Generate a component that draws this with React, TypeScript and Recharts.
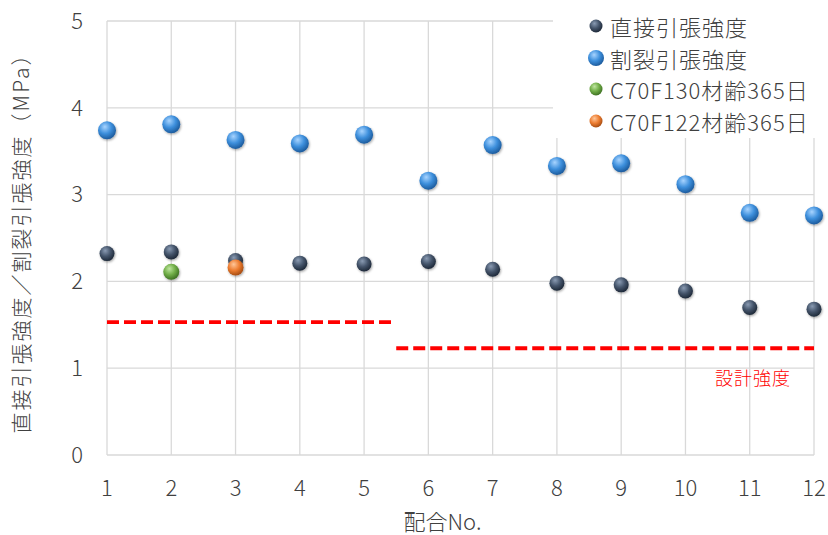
import React from 'react';
import {
  ScatterChart, Scatter, XAxis, YAxis, CartesianGrid, ReferenceLine, Label,
} from 'recharts';

const mixNo = [1, 2, 3, 4, 5, 6, 7, 8, 9, 10, 11, 12];
const directTension = [2.32, 2.34, 2.24, 2.21, 2.2, 2.23, 2.14, 1.98, 1.96, 1.89, 1.7, 1.68];
const splitTension = [3.74, 3.81, 3.63, 3.59, 3.69, 3.16, 3.57, 3.33, 3.36, 3.12, 2.79, 2.76];
const c70f130No = [2];
const c70f130Values = [2.11];
const c70f122No = [3];
const c70f122Values = [2.16];
const designFrom = [1, 5.5];
const designTo = [5.45, 12];
const designValues = [1.53, 1.23];
const yTicks = [0, 1, 2, 3, 4, 5];

const seriesNames = ['直接引張強度', '割裂引張強度', 'C70F130材齢365日', 'C70F122材齢365日'];

const directData = mixNo.map((x, i) => ({ x, y: directTension[i] }));
const splitData = mixNo.map((x, i) => ({ x, y: splitTension[i] }));
const greenData = c70f130No.map((x, i) => ({ x, y: c70f130Values[i] }));
const orangeData = c70f122No.map((x, i) => ({ x, y: c70f122Values[i] }));

const FONT = '"Noto Sans CJK JP", "Noto Sans", sans-serif';
const TEXT = '#404040';
const FW = 300;

const gradients = [
  { id: 'gDark', light: '#8a9bb3', mid: '#44546a', dark: '#1f2a3a' },
  { id: 'gBlue', light: '#a8d4ff', mid: '#3d8fdc', dark: '#1d5c9e' },
  { id: 'gGreen', light: '#bfe6a0', mid: '#70ad47', dark: '#3f7224' },
  { id: 'gOrange', light: '#ffc79a', mid: '#ed7d31', dark: '#a84d12' },
];

const Defs = () => (
  <defs>
    {gradients.map((g) => (
      <radialGradient key={g.id} id={g.id} cx="0.4" cy="0.35" r="0.65" fx="0.38" fy="0.3">
        <stop offset="0%" stopColor={g.light} />
        <stop offset="55%" stopColor={g.mid} />
        <stop offset="100%" stopColor={g.dark} />
      </radialGradient>
    ))}
    <filter id="shadow" x="-50%" y="-50%" width="200%" height="200%">
      <feDropShadow dx="0.8" dy="1.2" stdDeviation="0.8" floodColor="#000" floodOpacity="0.35" />
    </filter>
  </defs>
);

const makeShape = (grad: string, r: number) => (props: any) => {
  const { cx, cy } = props;
  if (cx == null || cy == null) return <g />;
  return <circle cx={cx} cy={cy} r={r} fill={`url(#${grad})`} filter="url(#shadow)" />;
};

const legendItems = [
  { name: seriesNames[0], grad: 'gDark', r: 6.5 },
  { name: seriesNames[1], grad: 'gBlue', r: 8 },
  { name: seriesNames[2], grad: 'gGreen', r: 6.5 },
  { name: seriesNames[3], grad: 'gOrange', r: 6.5 },
];

const LegendBox = () => (
  <div style={{ position: 'absolute', left: 553, top: 0, width: 275, height: 138, background: '#fff' }}>
    {legendItems.map((it, i) => (
      <div
        key={it.name}
        style={{
          position: 'absolute', left: 33, top: 26 + i * 31.5 - 16, height: 32,
          display: 'flex', alignItems: 'center',
        }}
      >
        <svg width={20} height={20} style={{ marginRight: 4 }}>
          <circle cx={10} cy={10} r={it.r} fill={`url(#${it.grad})`} />
        </svg>
        <span style={{ fontFamily: FONT, fontWeight: FW, fontSize: 22, color: TEXT, whiteSpace: 'nowrap', letterSpacing: 1 }}>
          {it.name}
        </span>
      </div>
    ))}
  </div>
);

const designLabel = (props: any) => {
  const vb = props.viewBox || {};
  const x = (vb.x ?? 0) + (vb.width ?? 0) - 61;
  const y = (vb.y ?? 0) + 29;
  return (
    <text x={x} y={y} fill="#ff0000" fontSize={18} letterSpacing={1} fontWeight={FW} fontFamily={FONT} textAnchor="middle" dominantBaseline="central">
      設計強度
    </text>
  );
};

export default function App() {
  return (
    <div style={{ position: 'absolute', left: 0, top: 0, width: 828, height: 535, background: '#fff' }}>
      <ScatterChart width={828} height={535} margin={{ top: 21, right: 14, bottom: 0, left: 0 }}>
        <Defs />
        <CartesianGrid stroke="#d9d9d9" strokeWidth={1.3} />
        <XAxis
          type="number"
          dataKey="x"
          domain={[1, 12]}
          ticks={mixNo}
          interval={0}
          axisLine={false}
          tickLine={false}
          tickSize={0}
          tickMargin={25}
          height={80}
          tick={{ fill: TEXT, fontSize: 22, fontFamily: FONT, fontWeight: FW }}
        >
          <Label
            value="配合No."
            position="insideBottom"
            offset={5}
            dx={-18}
            style={{ fill: TEXT, fontSize: 22, fontFamily: FONT, fontWeight: FW }}
          />
        </XAxis>
        <YAxis
          type="number"
          dataKey="y"
          domain={[0, 5]}
          ticks={yTicks}
          interval={0}
          axisLine={false}
          tickLine={false}
          tickSize={0}
          tickMargin={24}
          width={107}
          tick={{ fill: TEXT, fontSize: 22, fontFamily: FONT, fontWeight: FW }}
        >
          <Label
            value="直接引張強度／割裂引張強度（MPa）"
            angle={-90}
            position="insideLeft"
            offset={22}
            style={{ fill: TEXT, fontSize: 21, letterSpacing: 2, fontFamily: FONT, fontWeight: FW, textAnchor: 'middle' }}
          />
        </YAxis>
        {designValues.map((v, i) => (
          <ReferenceLine
            key={i}
            segment={[{ x: designFrom[i], y: v }, { x: designTo[i], y: v }]}
            stroke="#ff0000"
            strokeWidth={3.8}
            strokeDasharray="12 5"
            ifOverflow="visible"
            label={i === 1 ? designLabel : undefined}
          />
        ))}
        <Scatter name={seriesNames[0]} data={directData} shape={makeShape('gDark', 7.5)} isAnimationActive={false} />
        <Scatter name={seriesNames[1]} data={splitData} shape={makeShape('gBlue', 9)} isAnimationActive={false} />
        <Scatter name={seriesNames[2]} data={greenData} shape={makeShape('gGreen', 8)} isAnimationActive={false} />
        <Scatter name={seriesNames[3]} data={orangeData} shape={makeShape('gOrange', 8)} isAnimationActive={false} />
      </ScatterChart>
      <LegendBox />
    </div>
  );
}
